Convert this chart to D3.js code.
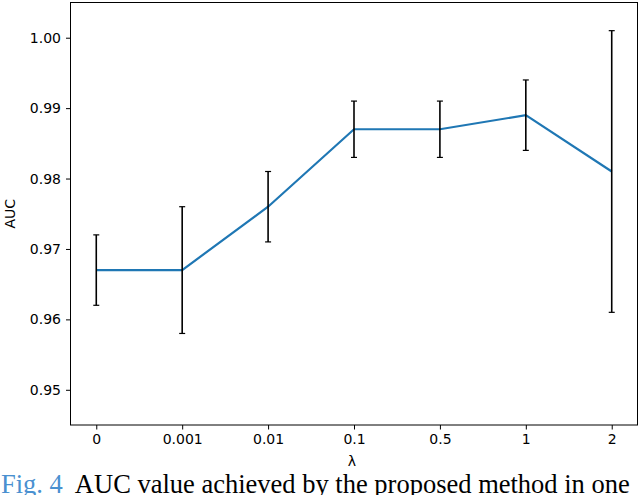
<!DOCTYPE html>
<html><head><meta charset="utf-8">
<script src="https://cdn.jsdelivr.net/npm/d3@7"></script>
<style>body{margin:0;background:#fff}svg{display:block}</style>
</head><body><svg id="c" width="640" height="495"></svg>
<script>
const categories = ["0","0.001","0.01","0.1","0.5","1","2"];
const aucValues = [0.967,0.967,0.976,0.987,0.987,0.989,0.981];
const aucErrors = [0.005,0.009,0.005,0.004,0.004,0.005,0.020];
const yTicks = [0.95,0.96,0.97,0.98,0.99,1.00];

const svg = d3.select("#c");
const L=70.5, R=637.5, T=2.5, B=425;
const x = d3.scaleLinear().domain([-0.3, categories.length-1+0.3]).range([L,R]);
const y = d3.scaleLinear().domain([0.945,1.005]).range([B,T]);
const font = "'DejaVu Sans', sans-serif";

const xAxis = svg.append("g").attr("transform",`translate(0,${B})`)
  .call(d3.axisBottom(x).tickValues(d3.range(categories.length)).tickFormat(i=>categories[i]).tickSize(4.5).tickPadding(5));
const yAxis = svg.append("g").attr("transform",`translate(${L},0)`)
  .call(d3.axisLeft(y).tickValues(yTicks).tickFormat(d3.format(".2f")).tickSize(4.5).tickPadding(5));
[xAxis,yAxis].forEach(g=>{
  g.select(".domain").remove();
  g.selectAll("line").attr("stroke","#000").attr("stroke-width",1);
  g.selectAll("text").attr("font-family",font).attr("font-size",14).attr("fill","#000");
});

svg.append("rect").attr("x",L).attr("y",T).attr("width",R-L).attr("height",B-T)
  .attr("fill","none").attr("stroke","#000").attr("stroke-width",1);

const line = d3.line().x((d,i)=>x(i)).y(d=>y(d));
svg.append("path").datum(aucValues).attr("d",line).attr("fill","none")
  .attr("stroke","#1f77b4").attr("stroke-width",2.2);

const eb = svg.append("g").attr("stroke","#000").attr("stroke-width",1.6);
aucValues.forEach((v,i)=>{
  const e=aucErrors[i], cx=x(i);
  eb.append("line").attr("x1",cx).attr("x2",cx).attr("y1",y(v-e)).attr("y2",y(v+e));
  [v-e,v+e].forEach(t=>eb.append("line").attr("x1",cx-3).attr("x2",cx+3).attr("y1",y(t)).attr("y2",y(t)).attr("stroke-width",1.2));
});

svg.append("text").attr("x",(L+R)/2-2).attr("y",466).attr("text-anchor","middle")
  .attr("font-family",font).attr("font-size",14).text("λ");
svg.append("text").attr("transform",`translate(15,${(T+B)/2}) rotate(-90)`).attr("text-anchor","middle")
  .attr("font-family",font).attr("font-size",14).text("AUC");

const cap = svg.append("text").attr("x",1).attr("y",493)
  .attr("font-family","'Liberation Serif', serif").attr("font-size",26.5);
cap.append("tspan").attr("fill","#4a90d0").text("Fig. 4");
cap.append("tspan").attr("fill","#000").attr("dx",12).text("AUC value achieved by the proposed method in one");
</script></body></html>
